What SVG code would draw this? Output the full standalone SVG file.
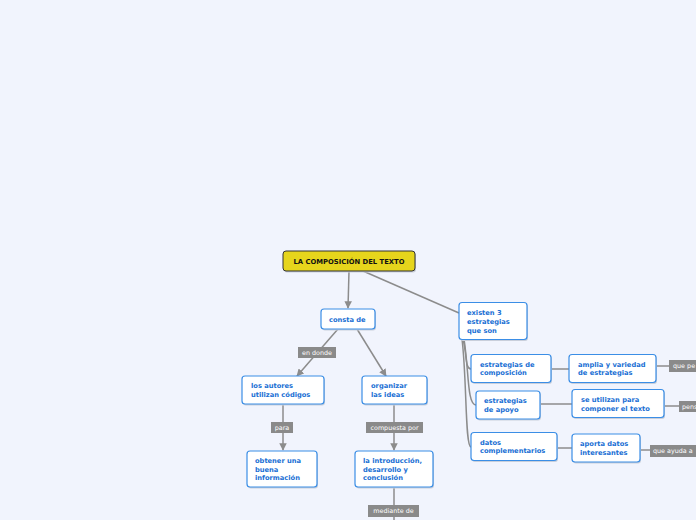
<svg xmlns="http://www.w3.org/2000/svg" width="696" height="520" viewBox="0 0 696 520">
<defs>
<style>
.bg{fill:#f1f4fd}
.node{fill:#ffffff;stroke:#3b8ee6;stroke-width:1.2}
.shadow{fill:#c9cfdb}
.root{fill:#e6d51c;stroke:#333333;stroke-width:1}
.t{font-family:"DejaVu Sans",Verdana,sans-serif;font-size:6.7px;font-weight:bold;fill:#1a6fd4}
.rt{font-family:"DejaVu Sans",Verdana,sans-serif;font-size:6.8px;font-weight:bold;fill:#111111}
.lbl{fill:#8a8a8a}
.lt{font-family:"DejaVu Sans",Verdana,sans-serif;font-size:6.4px;fill:#ffffff}
.c{fill:none;stroke:#8c8c8c;stroke-width:1.5}
</style>
<marker id="arr" viewBox="0 0 10 10" refX="9" refY="5" markerWidth="5" markerHeight="5" orient="auto">
<path d="M0,0 L10,5 L0,10 z" fill="#8c8c8c"/>
</marker>
</defs>
<rect class="bg" x="0" y="0" width="696" height="520"/>

<g id="connectors">
<path class="c" d="M349,271 L348,308" marker-end="url(#arr)"/>
<path class="c" d="M363,271 L459,313"/>
<path class="c" d="M338,329 L297,376" marker-end="url(#arr)"/>
<path class="c" d="M357,329 L386,376" marker-end="url(#arr)"/>
<path class="c" d="M283,404 L283,450" marker-end="url(#arr)"/>
<path class="c" d="M394,404 L394,450" marker-end="url(#arr)"/>
<path class="c" d="M394,487 L394,520"/>
<path class="c" d="M463,339 C467,355 465,369 471,369"/>
<path class="c" d="M464,339 C469,370 467,405 476,405"/>
<path class="c" d="M462,339 C467,380 465,447 471,447"/>
<path class="c" d="M552,369 L569,369"/>
<path class="c" d="M541,404 L572,404"/>
<path class="c" d="M557,448 L572,448"/>
<path class="c" d="M656,366 L669,366"/>
<path class="c" d="M664,406 L679,406"/>
<path class="c" d="M641,450 L650,450"/>
</g>

<g id="lbl-endonde"><rect class="lbl" x="298" y="347" width="38" height="11"/><text class="lt" x="317" y="354.8" text-anchor="middle">en donde</text></g>
<g id="lbl-para"><rect class="lbl" x="271" y="422" width="22" height="11"/><text class="lt" x="282" y="429.8" text-anchor="middle">para</text></g>
<g id="lbl-compuesta"><rect class="lbl" x="366" y="422" width="57" height="11"/><text class="lt" x="394.5" y="429.8" text-anchor="middle">compuesta por</text></g>
<g id="lbl-mediante"><rect class="lbl" x="368" y="505" width="51" height="12"/><text class="lt" x="393.5" y="513.3" text-anchor="middle">mediante de</text></g>
<g id="lbl-quepe"><rect class="lbl" x="669" y="360" width="40" height="12"/><text class="lt" x="673" y="368.3">que pe</text></g>
<g id="lbl-pens"><rect class="lbl" x="679" y="401" width="30" height="11"/><text class="lt" x="682" y="408.8">pens</text></g>
<g id="lbl-queayuda"><rect class="lbl" x="650" y="445" width="50" height="12"/><text class="lt" x="653" y="453.3">que ayuda a</text></g>

<g id="root">
<rect class="shadow" x="284" y="252.5" width="132" height="20" rx="3"/>
<rect class="root" x="283" y="251" width="132" height="20" rx="3"/>
<text class="rt" x="349" y="263.6" text-anchor="middle">LA COMPOSICIÓN DEL TEXTO</text>
</g>

<g id="consta">
<rect class="shadow" x="322" y="310.5" width="54" height="20" rx="3"/>
<rect class="node" x="321" y="309" width="54" height="20" rx="3"/>
<text class="t" x="329" y="321.6">consta de</text>
</g>

<g id="existen">
<rect class="shadow" x="460" y="304" width="68" height="37" rx="3"/>
<rect class="node" x="459" y="302.5" width="68" height="37" rx="3"/>
<text class="t" x="467" y="315.2">existen 3</text>
<text class="t" x="467" y="324.2">estrategias</text>
<text class="t" x="467" y="333.2">que son</text>
</g>

<g id="autores">
<rect class="shadow" x="243" y="377.5" width="82" height="28" rx="3"/>
<rect class="node" x="242" y="376" width="82" height="28" rx="3"/>
<text class="t" x="251" y="387.6">los autores</text>
<text class="t" x="251" y="396.6">utilizan códigos</text>
</g>

<g id="organizar">
<rect class="shadow" x="363" y="377.5" width="65" height="28" rx="3"/>
<rect class="node" x="362" y="376" width="65" height="28" rx="3"/>
<text class="t" x="371" y="387.6">organizar</text>
<text class="t" x="371" y="396.6">las ideas</text>
</g>

<g id="obtener">
<rect class="shadow" x="248" y="452.5" width="70" height="36" rx="3"/>
<rect class="node" x="247" y="451" width="70" height="36" rx="3"/>
<text class="t" x="255" y="462.6">obtener una</text>
<text class="t" x="255" y="471.6">buena</text>
<text class="t" x="255" y="480.1">información</text>
</g>

<g id="introduccion">
<rect class="shadow" x="356" y="452.5" width="78" height="36" rx="3"/>
<rect class="node" x="355" y="451" width="78" height="36" rx="3"/>
<text class="t" x="363" y="462.6">la introducción,</text>
<text class="t" x="363" y="471.6">desarrollo y</text>
<text class="t" x="363" y="480.1">conclusión</text>
</g>

<g id="composicion">
<rect class="shadow" x="472" y="356" width="80" height="28" rx="3"/>
<rect class="node" x="471" y="354.5" width="80" height="28" rx="3"/>
<text class="t" x="480" y="367.2">estrategias de</text>
<text class="t" x="480" y="375.2">composición</text>
</g>

<g id="apoyo">
<rect class="shadow" x="477" y="392.5" width="64" height="28" rx="3"/>
<rect class="node" x="476" y="391" width="64" height="28" rx="3"/>
<text class="t" x="484" y="403.2">estrategias</text>
<text class="t" x="484" y="411.7">de apoyo</text>
</g>

<g id="datos">
<rect class="shadow" x="472" y="434" width="86" height="28" rx="3"/>
<rect class="node" x="471" y="432.5" width="86" height="28" rx="3"/>
<text class="t" x="480" y="444.7">datos</text>
<text class="t" x="480" y="452.7">complementarios</text>
</g>

<g id="amplia">
<rect class="shadow" x="570" y="356" width="87" height="28" rx="3"/>
<rect class="node" x="569" y="354.5" width="87" height="28" rx="3"/>
<text class="t" x="578" y="367.2">amplia y variedad</text>
<text class="t" x="578" y="375.2">de estrategias</text>
</g>

<g id="utilizan">
<rect class="shadow" x="573" y="391" width="92" height="28" rx="3"/>
<rect class="node" x="572" y="389.5" width="92" height="28" rx="3"/>
<text class="t" x="581" y="401.7">se utilizan para</text>
<text class="t" x="581" y="410.7">componer el texto</text>
</g>

<g id="aporta">
<rect class="shadow" x="573" y="435.5" width="68" height="28" rx="3"/>
<rect class="node" x="572" y="434" width="68" height="28" rx="3"/>
<text class="t" x="580" y="446.2">aporta datos</text>
<text class="t" x="580" y="454.7">interesantes</text>
</g>
</svg>
